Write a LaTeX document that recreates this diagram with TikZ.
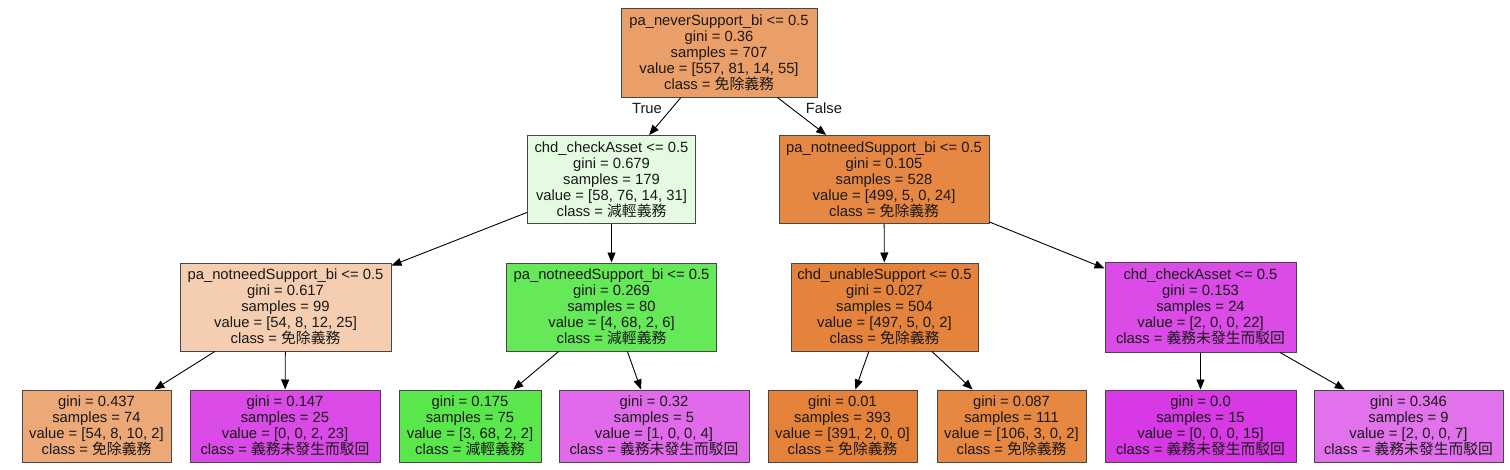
\documentclass[tikz,border=0pt]{standalone}
\usepackage{fontspec}
\setmainfont{Liberation Sans}
\newfontfamily\cjk{Noto Sans CJK TC}
\usetikzlibrary{arrows.meta}
\definecolor{cRoot}{HTML}{EB9F68}
\definecolor{cA}{HTML}{E4FBE2}
\definecolor{cB}{HTML}{E68844}
\definecolor{cLL}{HTML}{F5CEB1}
\definecolor{cLR}{HTML}{66E959}
\definecolor{cRL}{HTML}{E5833C}
\definecolor{cRR}{HTML}{DB4BE7}
\definecolor{cLa}{HTML}{EDA877}
\definecolor{cLb}{HTML}{DA4AE7}
\definecolor{cLc}{HTML}{5AE74C}
\definecolor{cLd}{HTML}{E16AEB}
\definecolor{cLe}{HTML}{E5823A}
\definecolor{cLf}{HTML}{E68742}
\definecolor{cLg}{HTML}{D739E5}
\definecolor{cLh}{HTML}{E272EC}
\newcommand{\mianchu}{{\cjk 免除義務}}
\newcommand{\jianqing}{{\cjk 減輕義務}}
\newcommand{\bohui}{{\cjk 義務未發生而駁回}}
\begin{document}
\begin{tikzpicture}[x=1pt,y=-1pt,
  treebox/.style={draw=black!72, line width=1pt, align=center, inner sep=0pt,
    font=\fontsize{14.8}{16}\selectfont, text=black!90},
  inner/.style={treebox, minimum height=88pt},
  leaf/.style={treebox, minimum height=72pt},
  edge/.style={draw=black, line width=0.9pt, -{Triangle[length=10pt,width=8pt]}},
  lbl/.style={font=\fontsize{14.8}{16}\selectfont, inner sep=0pt, text=black!90}]
\useasboundingbox[fill=white] (0,0) rectangle (1510,469);

\node[inner, fill=cRoot, minimum width=196pt, minimum height=89pt] (root) at (719,52.5)
  {pa\_neverSupport\_bi <= 0.5\\gini = 0.36\\samples = 707\\value = [557, 81, 14, 55]\\class = \mianchu};

\node[inner, fill=cA, minimum width=168pt] (A) at (611.5,179.5)
  {chd\_checkAsset <= 0.5\\gini = 0.679\\samples = 179\\value = [58, 76, 14, 31]\\class = \jianqing};
\node[inner, fill=cB, minimum width=210pt] (B) at (884,179.5)
  {pa\_notneedSupport\_bi <= 0.5\\gini = 0.105\\samples = 528\\value = [499, 5, 0, 24]\\class = \mianchu};

\node[inner, fill=cLL, minimum width=211pt] (LL) at (285.5,307)
  {pa\_notneedSupport\_bi <= 0.5\\gini = 0.617\\samples = 99\\value = [54, 8, 12, 25]\\class = \mianchu};
\node[inner, fill=cLR, minimum width=210pt] (LR) at (611.5,307)
  {pa\_notneedSupport\_bi <= 0.5\\gini = 0.269\\samples = 80\\value = [4, 68, 2, 6]\\class = \jianqing};
\node[inner, fill=cRL, minimum width=187pt] (RL) at (884.5,307)
  {chd\_unableSupport <= 0.5\\gini = 0.027\\samples = 504\\value = [497, 5, 0, 2]\\class = \mianchu};
\node[inner, fill=cRR, minimum width=191pt, minimum height=90pt] (RR) at (1200.5,307)
  {chd\_checkAsset <= 0.5\\gini = 0.153\\samples = 24\\value = [2, 0, 0, 22]\\class = \bohui};

\node[leaf, fill=cLa, minimum width=149pt] (L1) at (96.5,426)
  {gini = 0.437\\samples = 74\\value = [54, 8, 10, 2]\\class = \mianchu};
\node[leaf, fill=cLb, minimum width=190pt] (L2) at (285,426)
  {gini = 0.147\\samples = 25\\value = [0, 0, 2, 23]\\class = \bohui};
\node[leaf, fill=cLc, minimum width=142pt] (L3) at (470,426)
  {gini = 0.175\\samples = 75\\value = [3, 68, 2, 2]\\class = \jianqing};
\node[leaf, fill=cLd, minimum width=190pt] (L4) at (654,426)
  {gini = 0.32\\samples = 5\\value = [1, 0, 0, 4]\\class = \bohui};
\node[leaf, fill=cLe, minimum width=149pt] (L5) at (842.5,426)
  {gini = 0.01\\samples = 393\\value = [391, 2, 0, 0]\\class = \mianchu};
\node[leaf, fill=cLf, minimum width=149pt] (L6) at (1011.5,426)
  {gini = 0.087\\samples = 111\\value = [106, 3, 0, 2]\\class = \mianchu};
\node[leaf, fill=cLg, minimum width=191pt] (L7) at (1200.5,426)
  {gini = 0.0\\samples = 15\\value = [0, 0, 0, 15]\\class = \bohui};
\node[leaf, fill=cLh, minimum width=189pt] (L8) at (1408.5,426)
  {gini = 0.346\\samples = 9\\value = [2, 0, 0, 7]\\class = \bohui};

\draw[edge] (root) -- (A);
\draw[edge] (root) -- (B);
\draw[edge] (A) -- (LL);
\draw[edge] (A) -- (LR);
\draw[edge] (B) -- (RL);
\draw[edge] (B) -- (RR);
\draw[edge] (LL) -- (L1);
\draw[edge] (LL) -- (L2);
\draw[edge] (LR) -- (L3);
\draw[edge] (LR) -- (L4);
\draw[edge] (RL) -- (L5);
\draw[edge] (RL) -- (L6);
\draw[edge] (RR) -- (L7);
\draw[edge] (RR) -- (L8);

\node[lbl] (tlab) at (647,108) {True};
\node[lbl] (flab) at (824,108) {False};
\end{tikzpicture}
\end{document}
